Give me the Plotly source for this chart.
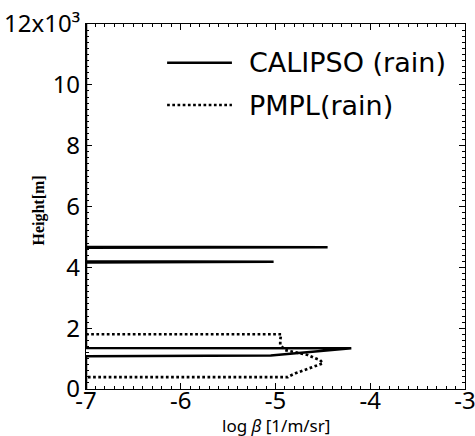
import plotly.graph_objects as go

# CALIPSO (rain) profile: log backscatter vs height
calipso_height = [0, 1080, 1100, 1340, 1350, 4160, 4180, 4200, 4640, 4660, 4680, 12000]
calipso_logbeta = [-7, -7, -5.05, -4.2, -7, -7, -5.02, -7, -7, -4.45, -7, -7]

# PMPL (rain) profile
pmpl_height = [1800, 1800, 1610, 1450, 1280, 1225, 1170, 1120, 1010, 950, 845, 735, 625, 515, 430, 390, 390]
pmpl_logbeta = [-7, -4.94, -4.95, -4.95, -4.90, -4.82, -4.72, -4.66, -4.58, -4.53, -4.50, -4.60, -4.71, -4.79, -4.85, -4.87, -7]

x_ticks = [-7, -6, -5, -4, -3]
x_ticklabels = ["-7", "-6", "-5", "-4", "-3"]
y_ticks = [0, 2000, 4000, 6000, 8000, 10000, 12000]
y_ticklabels = ["0", "2", "4", "6", "8", "10", "12x10³"]

legend_names = ["CALIPSO (rain)", "PMPL(rain)"]

FONT = "Noto Sans"

fig = go.Figure()
fig.add_trace(go.Scatter(x=calipso_logbeta, y=calipso_height, mode="lines",
                         line=dict(color="black", width=2.5), name=legend_names[0],
                         showlegend=False))
fig.add_trace(go.Scatter(x=pmpl_logbeta, y=pmpl_height, mode="lines",
                         line=dict(color="black", width=2.7, dash="2.7px,2.5px"),
                         name=legend_names[1], showlegend=False))

# manual legend (long line samples like the original)
leg_y = [0.894, 0.778]
dashes = ["solid", "2.7px,2.5px"]
for yy, nm, ds in zip(leg_y, legend_names, dashes):
    fig.add_shape(type="line", xref="paper", yref="paper", x0=0.214, x1=0.385, y0=yy, y1=yy,
                  line=dict(color="black", width=2.6, dash=ds))
    fig.add_annotation(xref="paper", yref="paper", x=0.425, y=yy, text=nm, showarrow=False,
                       xanchor="left", yanchor="middle",
                       font=dict(family="DejaVu Sans", size=27, color="black"))

fig.add_annotation(xref="paper", yref="paper", x=0.5, y=-0.1, text="log <i>β</i> [1/m/sr]",
                   showarrow=False, xanchor="center", yanchor="middle",
                   font=dict(family=FONT, size=17, color="black"))
fig.add_annotation(xref="paper", yref="paper", x=-0.123, y=0.49, text="<b>Height[m]</b>",
                   showarrow=False, textangle=-90, xanchor="center", yanchor="middle",
                   font=dict(family="Liberation Serif", size=16, color="black"))

axis_common = dict(showgrid=False, zeroline=False, showline=True, linecolor="black", linewidth=1.2,
                   mirror="ticks", ticks="inside", ticklen=6, tickcolor="black", tickwidth=1.2,
                   automargin=False, ticklabeloverflow="allow",
                   tickfont=dict(family=FONT, size=24, color="black"))

fig.update_xaxes(range=[-7, -3], tickvals=x_ticks, ticktext=x_ticklabels, ticklabelstandoff=-10,
                 minor=dict(tickmode="linear", tick0=-7, dtick=0.1, ticks="inside", ticklen=3,
                            tickcolor="black", tickwidth=1), **axis_common)
fig.update_yaxes(range=[0, 12000], tickvals=y_ticks, ticktext=y_ticklabels,
                 minor=dict(tickmode="linear", tick0=0, dtick=200, ticks="inside", ticklen=3,
                            tickcolor="black", tickwidth=1), **axis_common)

fig.update_layout(width=475, height=436, margin=dict(l=86, r=10, t=24, b=47),
                  plot_bgcolor="white", paper_bgcolor="white", showlegend=False)

fig.write_html("out.html", config={"displayModeBar": False},
               post_script="document.body.style.margin='0';document.body.style.overflow='hidden';")
